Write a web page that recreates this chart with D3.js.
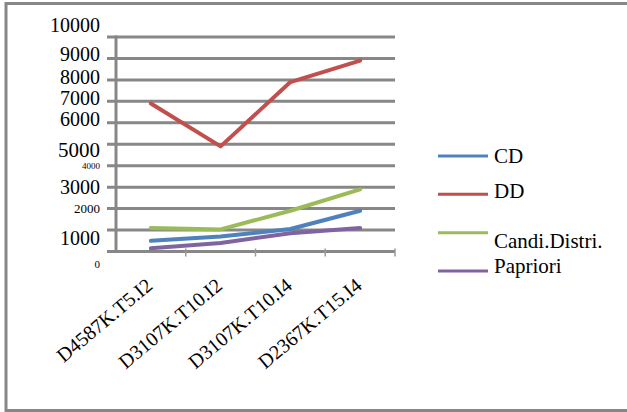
<!DOCTYPE html>
<html>
<head>
<meta charset="utf-8">
<script src="https://cdn.jsdelivr.net/npm/d3@7"></script>
<style>
  html, body { margin: 0; padding: 0; background: #fff; }
  svg { display: block; }
</style>
</head>
<body>
<svg id="chart" width="627" height="412" font-family="'Liberation Serif', 'Times New Roman', Tinos, 'DejaVu Serif', 'Noto Serif', serif"></svg>
<script>
// Datasets along the x axis
const categories = ["D4587K.T5.I2", "D3107K.T10.I2", "D3107K.T10.I4", "D2367K.T15.I4"];

// Series values per dataset
const seriesNames = ["CD", "DD", "Candi.Distri.", "Papriori"];
const cdValues      = [500, 700, 1050, 1900];
const ddValues      = [6900, 4900, 7900, 8900];
const candiValues   = [1100, 1030, 1900, 2900];
const aprioriValues = [150, 400, 850, 1100];

// Y axis ticks and their labels
const yTicks = [0, 1000, 2000, 3000, 4000, 5000, 6000, 7000, 8000, 9000, 10000];
const yTickLabels = ["0", "1000", "2000", "3000", "4000", "5000", "6000", "7000", "8000", "9000", "10000"];

const series = [
  { name: seriesNames[0], values: cdValues,      color: "#4F81BD" },
  { name: seriesNames[1], values: ddValues,      color: "#C0504D" },
  { name: seriesNames[2], values: candiValues,   color: "#9BBB59" },
  { name: seriesNames[3], values: aprioriValues, color: "#8064A2" }
];

// Per-label typography of the y axis (size in px, vertical nudge in px)
const yLabelStyle = {
  0:     { size: 11, dy: 12.5 },
  1000:  { size: 20, dy: 8 },
  2000:  { size: 13, dy: 0 },
  3000:  { size: 20, dy: 0 },
  4000:  { size: 9,  dy: 0 },
  5000:  { size: 21, dy: 5 },
  6000:  { size: 20, dy: -4 },
  7000:  { size: 20, dy: -3 },
  8000:  { size: 20, dy: -3 },
  9000:  { size: 20, dy: -4 },
  10000: { size: 20, dy: -12.5 }
};

// Legend text nudge relative to its swatch line
const legendTextDy = { "CD": 7, "DD": 4, "Candi.Distri.": 15, "Papriori": 2 };

const serif = "Liberation Serif, Times New Roman, Tinos, DejaVu Serif, Noto Serif, serif";
const svg = d3.select("#chart");
const gridColor = "#878787";

// Outer frame (open on the right)
svg.append("rect")
  .attr("x", 6).attr("y", 3.5)
  .attr("width", 660).attr("height", 407)
  .attr("fill", "none")
  .attr("stroke", gridColor)
  .attr("stroke-width", 3);

const plot = { left: 116, right: 395, top: 37, bottom: 251.5 };

const x = d3.scaleBand()
  .domain(categories)
  .range([plot.left, plot.right])
  .padding(0);

const y = d3.scaleLinear()
  .domain([0, 10000])
  .range([plot.bottom, plot.top]);

// Gridlines with outward tick stubs
svg.append("g")
  .selectAll("line")
  .data(yTicks)
  .join("line")
  .attr("x1", plot.left - 9)
  .attr("x2", plot.right)
  .attr("y1", d => y(d))
  .attr("y2", d => y(d))
  .attr("stroke", gridColor)
  .attr("stroke-width", 3);

// Vertical axis line
svg.append("line")
  .attr("x1", plot.left).attr("x2", plot.left)
  .attr("y1", plot.top - 1.5).attr("y2", plot.bottom + 1.5)
  .attr("stroke", gridColor)
  .attr("stroke-width", 3);

// Category boundary ticks on the x axis
const boundaries = categories.map(c => x(c) + x.bandwidth());
svg.append("g")
  .selectAll("line")
  .data(boundaries)
  .join("line")
  .attr("x1", d => d).attr("x2", d => d)
  .attr("y1", plot.bottom - 3).attr("y2", plot.bottom + 5)
  .attr("stroke", "#9a9a9a")
  .attr("stroke-width", 1.5);

// Y axis labels
svg.append("g")
  .selectAll("text")
  .data(yTicks)
  .join("text")
  .attr("x", 100)
  .attr("y", d => y(d) + yLabelStyle[d].dy)
  .attr("dy", "0.35em")
  .attr("text-anchor", "end")
  .attr("font-family", serif)
  .attr("font-size", d => yLabelStyle[d].size)
  .attr("fill", "#000")
  .text((d, i) => yTickLabels[i]);

// Rotated category labels
svg.append("g")
  .selectAll("text")
  .data(categories)
  .join("text")
  .attr("text-anchor", "end")
  .attr("font-family", serif)
  .attr("font-size", 20)
  .attr("fill", "#000")
  .attr("transform", d => `translate(${x(d) + x.bandwidth() / 2 + 3},${plot.bottom + 36}) rotate(-40)`)
  .text(d => d);

// Series lines
const line = d3.line()
  .x((d, i) => x(categories[i]) + x.bandwidth() / 2)
  .y(d => y(d));

svg.append("g")
  .selectAll("path")
  .data(series)
  .join("path")
  .attr("d", s => line(s.values))
  .attr("fill", "none")
  .attr("stroke", s => s.color)
  .attr("stroke-width", 4)
  .attr("stroke-linejoin", "round")
  .attr("stroke-linecap", "round");

// Legend
const legendY = d3.scalePoint()
  .domain(seriesNames)
  .range([156, 271]);

const legend = svg.append("g")
  .selectAll("g")
  .data(series)
  .join("g")
  .attr("transform", s => `translate(438,${legendY(s.name)})`);

legend.append("line")
  .attr("x1", 0).attr("x2", 50)
  .attr("stroke", s => s.color)
  .attr("stroke-width", 3);

legend.append("text")
  .attr("x", 56)
  .attr("y", s => legendTextDy[s.name])
  .attr("font-family", serif)
  .attr("font-size", 21)
  .attr("fill", "#000")
  .text(s => s.name);
</script>
</body>
</html>
